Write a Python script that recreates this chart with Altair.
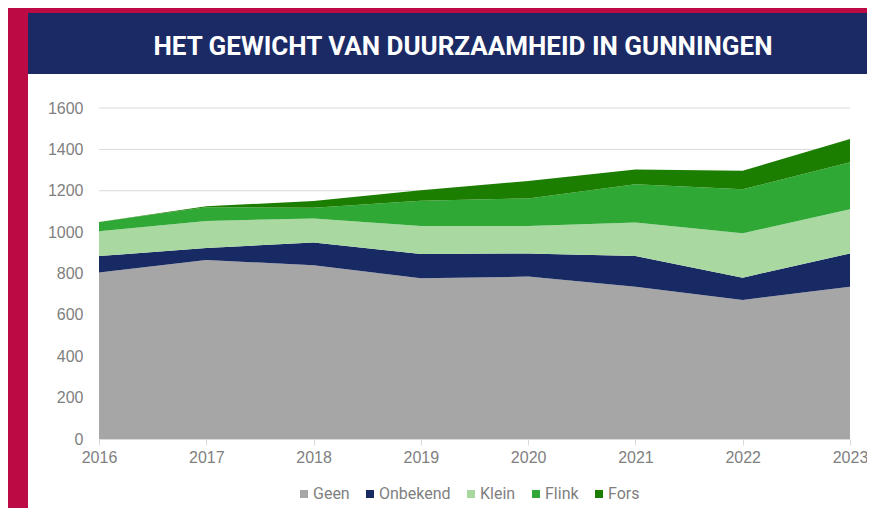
import altair as alt
import pandas as pd

years = [2016, 2017, 2018, 2019, 2020, 2021, 2022, 2023]
geen = [805, 865, 840, 777, 785, 736, 672, 736]
onbekend = [79, 58, 110, 117, 112, 148, 108, 161]
klein = [120, 131, 116, 136, 133, 162, 214, 213]
flink = [45, 66, 52, 122, 133, 185, 213, 228]
fors = [0, 5, 32, 50, 84, 72, 90, 112]
y_ticks = [0, 200, 400, 600, 800, 1000, 1200, 1400, 1600]

series_names = ["Geen", "Onbekend", "Klein", "Flink", "Fors"]
series_values = [geen, onbekend, klein, flink, fors]
colors = ["#A6A6A6", "#182A63", "#A9D9A0", "#2FA836", "#1C7E00"]
title_text = "HET GEWICHT VAN DUURZAAMHEID IN GUNNINGEN"

rows = []
for i, (name, vals) in enumerate(zip(series_names, series_values)):
    for y, v in zip(years, vals):
        rows.append({"jaar": str(y), "reeks": name, "waarde": v, "volg": i})
df = pd.DataFrame(rows)
grid_df = pd.DataFrame({"waarde": y_ticks[1:]})

W, H = 751, 331
PAD = {"left": 91, "top": 100, "right": 17, "bottom": 69}
CRIMSON = "#BC0A45"
NAVY = "#1B2A65"
FONT = "Roboto"
AXFONT = "Liberation Sans"

bg = pd.DataFrame({"a": [0]})
white = alt.Chart(bg).mark_rect(color="white").encode(
    x=alt.value(-71), x2=alt.value(W + 17), y=alt.value(-34), y2=alt.value(H + 69)
)
navy = alt.Chart(bg).mark_rect(color=NAVY).encode(
    x=alt.value(-71), x2=alt.value(W + 17), y=alt.value(-95), y2=alt.value(-34)
)
title = alt.Chart(bg).mark_text(
    text=title_text,
    color="white",
    font=FONT,
    fontSize=26,
    fontWeight="bold",
    align="center",
    baseline="alphabetic",
).encode(x=alt.value(364), y=alt.value(-53))

grid = alt.Chart(grid_df).mark_rule(color="#D9D9D9", strokeWidth=1).encode(
    y=alt.Y("waarde:Q", scale=alt.Scale(domain=[0, 1600], nice=False)),
    x=alt.value(0),
    x2=alt.value(W),
)

areas = alt.Chart(df).mark_area(opacity=1).encode(
    x=alt.X(
        "jaar:O",
        scale=alt.Scale(padding=0),
        axis=alt.Axis(
            title=None,
            labelAngle=0,
            domainColor="#D9D9D9",
            tickColor="#D9D9D9",
            tickSize=6,
            labelPadding=4,
            labelFontSize=16,
            labelColor="#7F7F7F",
            labelFont=AXFONT,
            zindex=1,
        ),
    ),
    y=alt.Y(
        "waarde:Q",
        stack="zero",
        scale=alt.Scale(domain=[0, 1600], nice=False),
        axis=alt.Axis(
            title=None,
            values=y_ticks,
            format="d",
            grid=False,
            domain=False,
            ticks=False,
            labelPadding=16,
            labelFontSize=16,
            labelColor="#7F7F7F",
            labelFont=AXFONT,
            zindex=1,
        ),
    ),
    color=alt.Color(
        "reeks:N",
        sort=series_names,
        scale=alt.Scale(domain=series_names, range=colors),
        legend=alt.Legend(
            title=None,
            orient="none",
            direction="horizontal",
            legendX=197,
            legendY=378,
            symbolType="square",
            symbolSize=64,
            symbolStrokeWidth=0,
            symbolOpacity=1,
            labelFontSize=16,
            labelColor="#7F7F7F",
            labelFont=FONT,
            labelOffset=1,
            columnPadding=12,
        ),
    ),
    order=alt.Order("volg:Q", sort="ascending"),
)

chart = alt.layer(white, navy, title, grid, areas).properties(
    width=W,
    height=H,
    autosize=alt.AutoSizeParams(type="none"),
    padding=PAD,
    background=CRIMSON,
).configure_view(stroke=None)

chart.save("out.html", embed_options={"renderer": "svg", "actions": False})
